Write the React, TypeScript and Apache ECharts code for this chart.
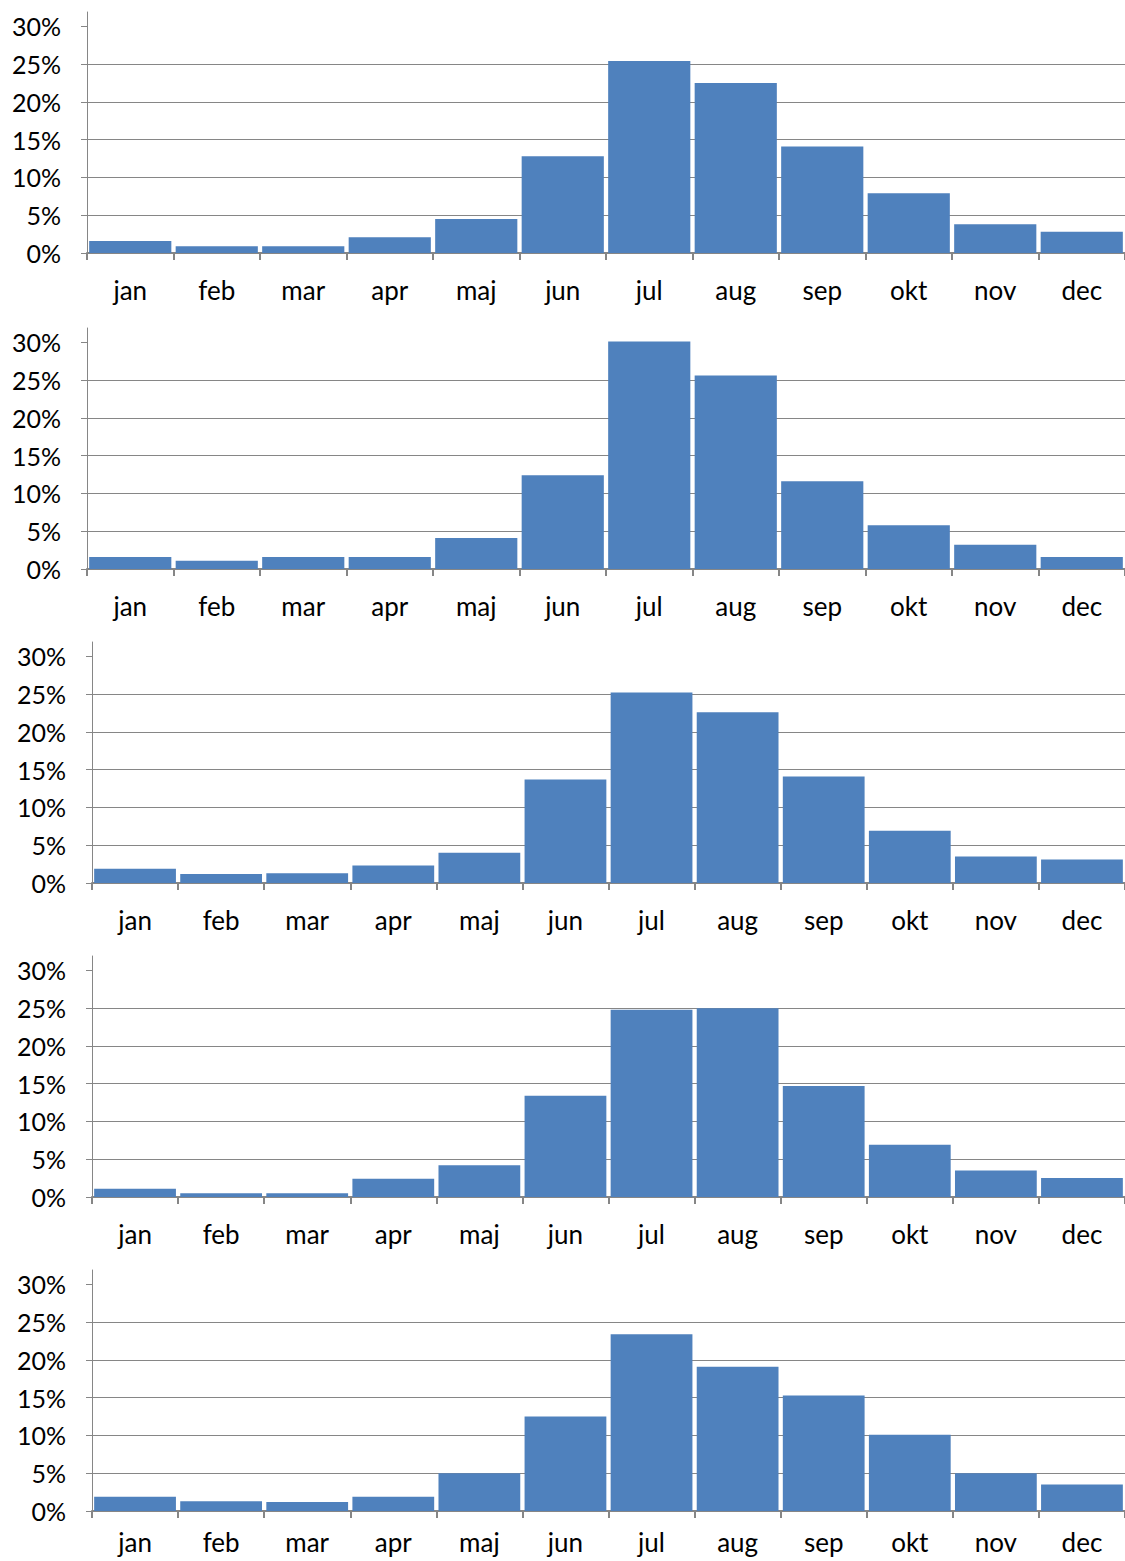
import React, { useEffect, useRef } from "react";
import * as echarts from "echarts";

const months = ["jan", "feb", "mar", "apr", "maj", "jun", "jul", "aug", "sep", "okt", "nov", "dec"];
const yTicks = [0, 5, 10, 15, 20, 25, 30];

const panel1 = [1.6, 0.9, 0.9, 2.1, 4.5, 12.8, 25.4, 22.5, 14.1, 7.9, 3.8, 2.8];
const panel2 = [1.6, 1.1, 1.6, 1.6, 4.1, 12.4, 30.1, 25.6, 11.6, 5.8, 3.2, 1.6];
const panel3 = [1.9, 1.2, 1.3, 2.3, 4.0, 13.7, 25.2, 22.6, 14.1, 6.9, 3.5, 3.1];
const panel4 = [1.1, 0.5, 0.5, 2.4, 4.2, 13.4, 24.8, 25.0, 14.7, 6.9, 3.5, 2.5];
const panel5 = [1.9, 1.3, 1.2, 1.9, 5.0, 12.5, 23.4, 19.1, 15.3, 10.1, 5.0, 3.5];

const panels = [panel1, panel2, panel3, panel4, panel5];
const panelTops = [12, 328, 642, 956, 1270];
const panelLefts = [87, 87, 92, 92, 92];
const labelMargins = [24, 24, 24, 24, 18];

export default function App() {
  const ref = useRef<HTMLDivElement>(null);
  useEffect(() => {
    if (!ref.current) return;
    const chart = echarts.init(ref.current, null, { renderer: "svg" });
    const gray = "#868686";
    const font = "Lato, 'Open Sans', sans-serif";
    const grids = panels.map((_, i) => ({
      left: panelLefts[i],
      right: 0,
      top: panelTops[i],
      height: 241,
      containLabel: false,
    }));
    const xAxes = panels.map((_, i) => ({
      type: "category",
      gridIndex: i,
      data: months,
      boundaryGap: true,
      axisLine: { show: true, lineStyle: { color: gray, width: 2 } },
      axisTick: { show: true, interval: 0, length: 7, lineStyle: { color: gray, width: 2 } },
      axisLabel: { interval: 0, color: "#000", fontSize: 26, fontFamily: font, margin: labelMargins[i] },
      splitLine: { show: false },
    }));
    const yAxes = panels.map((_, i) => ({
      type: "value",
      gridIndex: i,
      min: 0,
      max: 31.9,
      interval: 5,
      axisLine: { show: true, lineStyle: { color: gray, width: 1 } },
      axisTick: { show: true, length: 6, customValues: yTicks, lineStyle: { color: gray, width: 1 } },
      axisLabel: {
        customValues: yTicks,
        formatter: "{value}%",
        color: "#000",
        fontSize: 25,
        fontFamily: font,
        margin: 26,
      },
      splitLine: { show: true, showMaxLine: false, showMinLine: false, lineStyle: { color: gray, width: 1 } },
    }));
    const series = panels.map((d, i) => ({
      type: "bar",
      xAxisIndex: i,
      yAxisIndex: i,
      data: d,
      barCategoryGap: "5%",
      itemStyle: { color: "#4F81BD" },
    }));
    chart.setOption({
      animation: false,
      backgroundColor: "#ffffff",
      grid: grids,
      xAxis: xAxes,
      yAxis: yAxes,
      series,
    });
    return () => chart.dispose();
  }, []);
  return (
    <div
      ref={ref}
      style={{ position: "absolute", left: 0, top: 0, width: 1125, height: 1561, background: "#fff" }}
    />
  );
}
